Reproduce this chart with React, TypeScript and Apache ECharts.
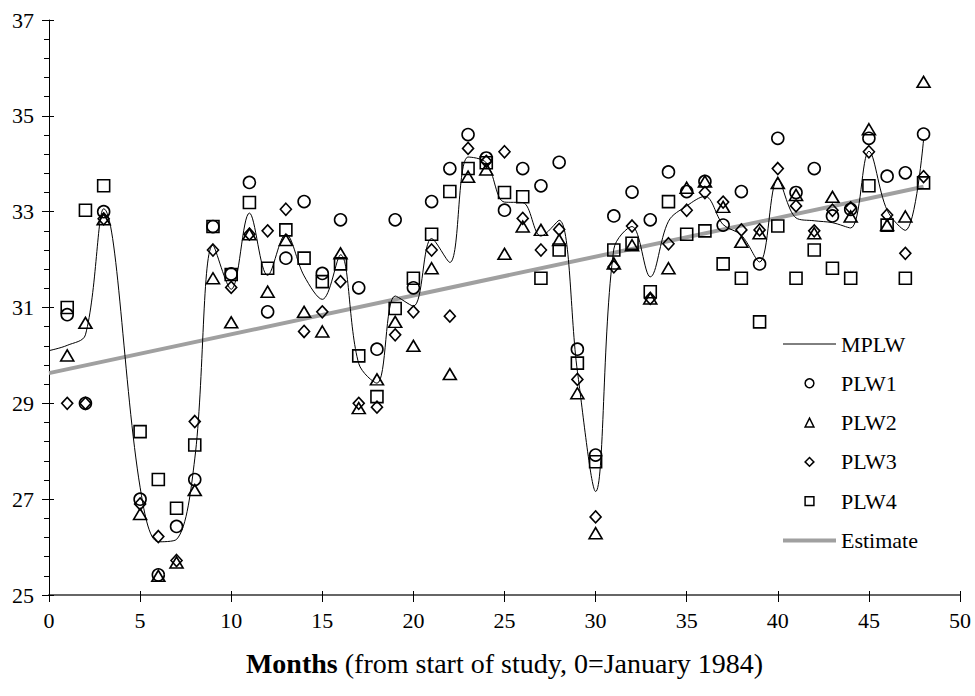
import React, { useEffect, useRef } from "react";
import * as echarts from "echarts";

const FONT = '"Liberation Serif", "Times New Roman", serif';

// Months with individual plot-level measurements
const months = [
  1, 2, 3, 5, 6, 7, 8, 9, 10, 11, 12, 13, 14, 15, 16, 17, 18, 19, 20, 21, 22, 23, 24,
  25, 26, 27, 28, 29, 30, 31, 32, 33, 34, 35, 36, 37, 38, 39, 40, 41, 42, 43, 44, 45, 46, 47, 48,
];

const plw1 = [
  30.85, 29.0, 33.0, 27.0, 25.42, 26.43, 27.41, 32.69, 31.7, 33.61, 30.91, 32.03, 33.21, 31.71,
  32.83, 31.41, 30.13, 32.83, 31.41, 33.21, 33.9, 34.61, 34.12, 33.03, 33.9, 33.54, 34.03, 30.13,
  27.92, 32.91, 33.41, 32.83, 33.83, 33.42, 33.63, 32.72, 33.42, 31.91, 34.53, 33.4, 33.9, 32.91,
  33.05, 34.53, 33.74, 33.81, 34.62,
];

const plw2 = [
  30.0, 30.68, 32.84, 26.69, 25.4, 25.68, 27.19, 31.61, 30.69, 32.53, 31.33, 32.41, 30.91, 30.5,
  32.13, 28.9, 29.5, 30.7, 30.2, 31.82, 29.61, 33.73, 33.88, 32.12, 32.69, 32.62, 32.41, 29.21,
  26.29, 31.92, 32.3, 31.19, 31.82, 33.5, 33.63, 33.1, 32.37, 32.55, 33.6, 33.35, 32.55, 33.31,
  32.9, 34.72, 32.72, 32.9, 35.71,
];

const plw3 = [
  29.0, 29.0, 32.85, 26.9, 26.22, 25.72, 28.62, 32.2, 31.42, 32.53, 32.6, 33.05, 30.5, 30.91,
  31.54, 29.0, 28.92, 30.43, 30.91, 32.2, 30.82, 34.32, 34.05, 34.25, 32.86, 32.2, 32.63, 29.5,
  26.63, 31.85, 32.7, 31.19, 32.33, 33.03, 33.4, 33.2, 32.62, 32.62, 33.9, 33.12, 32.6, 33.03,
  33.08, 34.25, 32.93, 32.13, 33.73,
];

const plw4 = [
  31.0, 33.03, 33.54, 28.41, 27.41, 26.81, 28.13, 32.69, 31.69, 33.19, 31.82, 32.62, 32.03, 31.54,
  31.91, 29.99, 29.14, 30.98, 31.61, 32.53, 33.42, 33.9, 34.02, 33.4, 33.31, 31.61, 32.2, 29.84,
  27.78, 32.2, 32.34, 31.33, 33.21, 32.53, 32.6, 31.91, 31.61, 30.7, 32.7, 31.61, 32.2, 31.82,
  31.61, 33.54, 32.72, 31.61, 33.6,
];

// MPLW smoothed line
const mplwMonths = [
  0, 1, 2, 3, 5, 6, 7, 8, 9, 10, 11, 12, 13, 14, 15, 16, 17, 18, 19, 20, 21, 22, 23, 24,
  25, 26, 27, 28, 29, 30, 31, 32, 33, 34, 35, 36, 37, 38, 39, 40, 41, 42, 43, 44, 45, 46, 47, 48,
];
const mplwValues = [
  30.1, 30.21, 30.43, 33.06, 27.25, 26.11, 26.16, 27.84, 32.3, 31.38, 32.97, 31.67, 32.53, 31.66,
  31.17, 32.1, 29.83, 29.42, 31.24, 31.03, 32.44, 31.94, 34.14, 34.02, 33.2, 33.19, 32.49, 32.82,
  29.67, 27.16, 32.22, 32.69, 31.64, 32.8, 33.12, 33.32, 32.73, 32.51, 31.95, 33.68, 32.87, 32.81,
  32.77, 32.66, 34.26, 33.03, 32.61, 34.5,
];

// Linear estimate
const estimateMonths = [0, 48];
const estimateValues = [29.63, 33.52];

const xTicks = { min: 0, max: 50, interval: 5 };
const yTicks = { min: 25, max: 37, interval: 2 };

const pairs = (xs: number[], ys: number[]) => xs.map((x, i) => [x, ys[i]]);

const markerStyle = { color: "rgba(0,0,0,0)", borderColor: "#000", borderWidth: 1.6 };
const legendMarkerStyle = { color: "rgba(0,0,0,0)", borderColor: "#000", borderWidth: 1.5, opacity: 1 };

function pointSeries(name: string, ys: number[], symbol: string, size: number | number[]) {
  return {
    name,
    type: "line",
    xAxisIndex: 0,
    yAxisIndex: 0,
    data: pairs(months, ys),
    symbol,
    symbolSize: size,
    showSymbol: true,
    color: "#000",
    lineStyle: { width: 0 },
    itemStyle: markerStyle,
    z: 4,
    silent: true,
  };
}

export default function App() {
  const ref = useRef<HTMLDivElement>(null);
  useEffect(() => {
    if (!ref.current) return;
    const chart = echarts.init(ref.current, null, { renderer: "svg" });
    const option: any = {
      animation: false,
      backgroundColor: "#fff",
      textStyle: { fontFamily: FONT },
      grid: { left: 49, right: 15, top: 20, bottom: 101, containLabel: false },
      xAxis: [
        {
          type: "value",
          ...xTicks,
          position: "bottom",
          axisLine: { show: true, onZero: false, lineStyle: { color: "#666", width: 2 } },
          axisTick: { show: true, length: 7, lineStyle: { color: "#000", width: 1 } },
          axisLabel: { fontSize: 22, color: "#000", margin: 14, fontFamily: FONT },
          splitLine: { show: false },
          name: "{b|Months} (from start of study, 0=January 1984)",
          nameLocation: "middle",
          nameGap: 54,
          nameTextStyle: {
            fontSize: 28,
            color: "#000",
            fontFamily: FONT,
            rich: { b: { fontSize: 28, fontWeight: "bold", color: "#000", fontFamily: FONT } },
          },
        },
        {
          type: "value",
          ...xTicks,
          position: "bottom",
          axisLine: { show: false, onZero: false },
          axisTick: { show: true, inside: true, length: 4, lineStyle: { color: "#000", width: 1 } },
          axisLabel: { show: false },
          splitLine: { show: false },
        },
      ],
      yAxis: [
        {
          type: "value",
          ...yTicks,
          position: "left",
          axisLine: { show: true, onZero: false, lineStyle: { color: "#000", width: 1 } },
          axisTick: { show: true, length: 7, lineStyle: { color: "#000", width: 1 } },
          minorTick: { show: true, splitNumber: 5, length: 5, lineStyle: { color: "#000", width: 1 } },
          axisLabel: { fontSize: 22, color: "#000", margin: 15, fontFamily: FONT },
          splitLine: { show: false },
          minorSplitLine: { show: false },
        },
        {
          type: "value",
          ...yTicks,
          position: "left",
          axisLine: { show: false, onZero: false },
          axisTick: { show: true, inside: true, length: 5, lineStyle: { color: "#000", width: 1 } },
          axisLabel: { show: false },
          splitLine: { show: false },
        },
      ],
      legend: {
        orient: "vertical",
        left: 781,
        top: 333,
        padding: 0,
        itemWidth: 53,
        itemHeight: 11,
        itemGap: 17.3,
        selectedMode: false,
        textStyle: { fontSize: 22, color: "#000", fontFamily: FONT },
        data: [
          { name: "MPLW", itemStyle: { opacity: 0 }, lineStyle: { width: 1, color: "#000", opacity: 1 } },
          { name: "PLW1", itemStyle: legendMarkerStyle },
          { name: "PLW2", itemStyle: legendMarkerStyle },
          { name: "PLW3", itemStyle: legendMarkerStyle },
          { name: "PLW4", itemStyle: legendMarkerStyle },
          { name: "Estimate", itemStyle: { opacity: 0 }, lineStyle: { width: 4, color: "#a0a0a0", opacity: 1 } },
        ],
      },
      series: [
        {
          name: "Estimate",
          type: "line",
          xAxisIndex: 0,
          yAxisIndex: 0,
          data: pairs(estimateMonths, estimateValues),
          symbol: "none",
          color: "#a0a0a0",
          lineStyle: { color: "#a0a0a0", width: 4 },
          z: 2,
          silent: true,
        },
        {
          name: "MPLW",
          type: "line",
          xAxisIndex: 0,
          yAxisIndex: 0,
          data: pairs(mplwMonths, mplwValues),
          symbol: "none",
          smooth: 0.35,
          color: "#000",
          lineStyle: { color: "#000", width: 1 },
          z: 3,
          silent: true,
        },
        pointSeries("PLW1", plw1, "circle", 12),
        pointSeries("PLW2", plw2, "triangle", [13, 11]),
        pointSeries("PLW3", plw3, "diamond", [11, 12]),
        pointSeries("PLW4", plw4, "rect", 12),
      ],
    };
    chart.setOption(option);
    return () => chart.dispose();
  }, []);
  return (
    <div
      ref={ref}
      style={{ position: "fixed", left: 0, top: 0, width: 975, height: 696, background: "#fff" }}
    />
  );
}
